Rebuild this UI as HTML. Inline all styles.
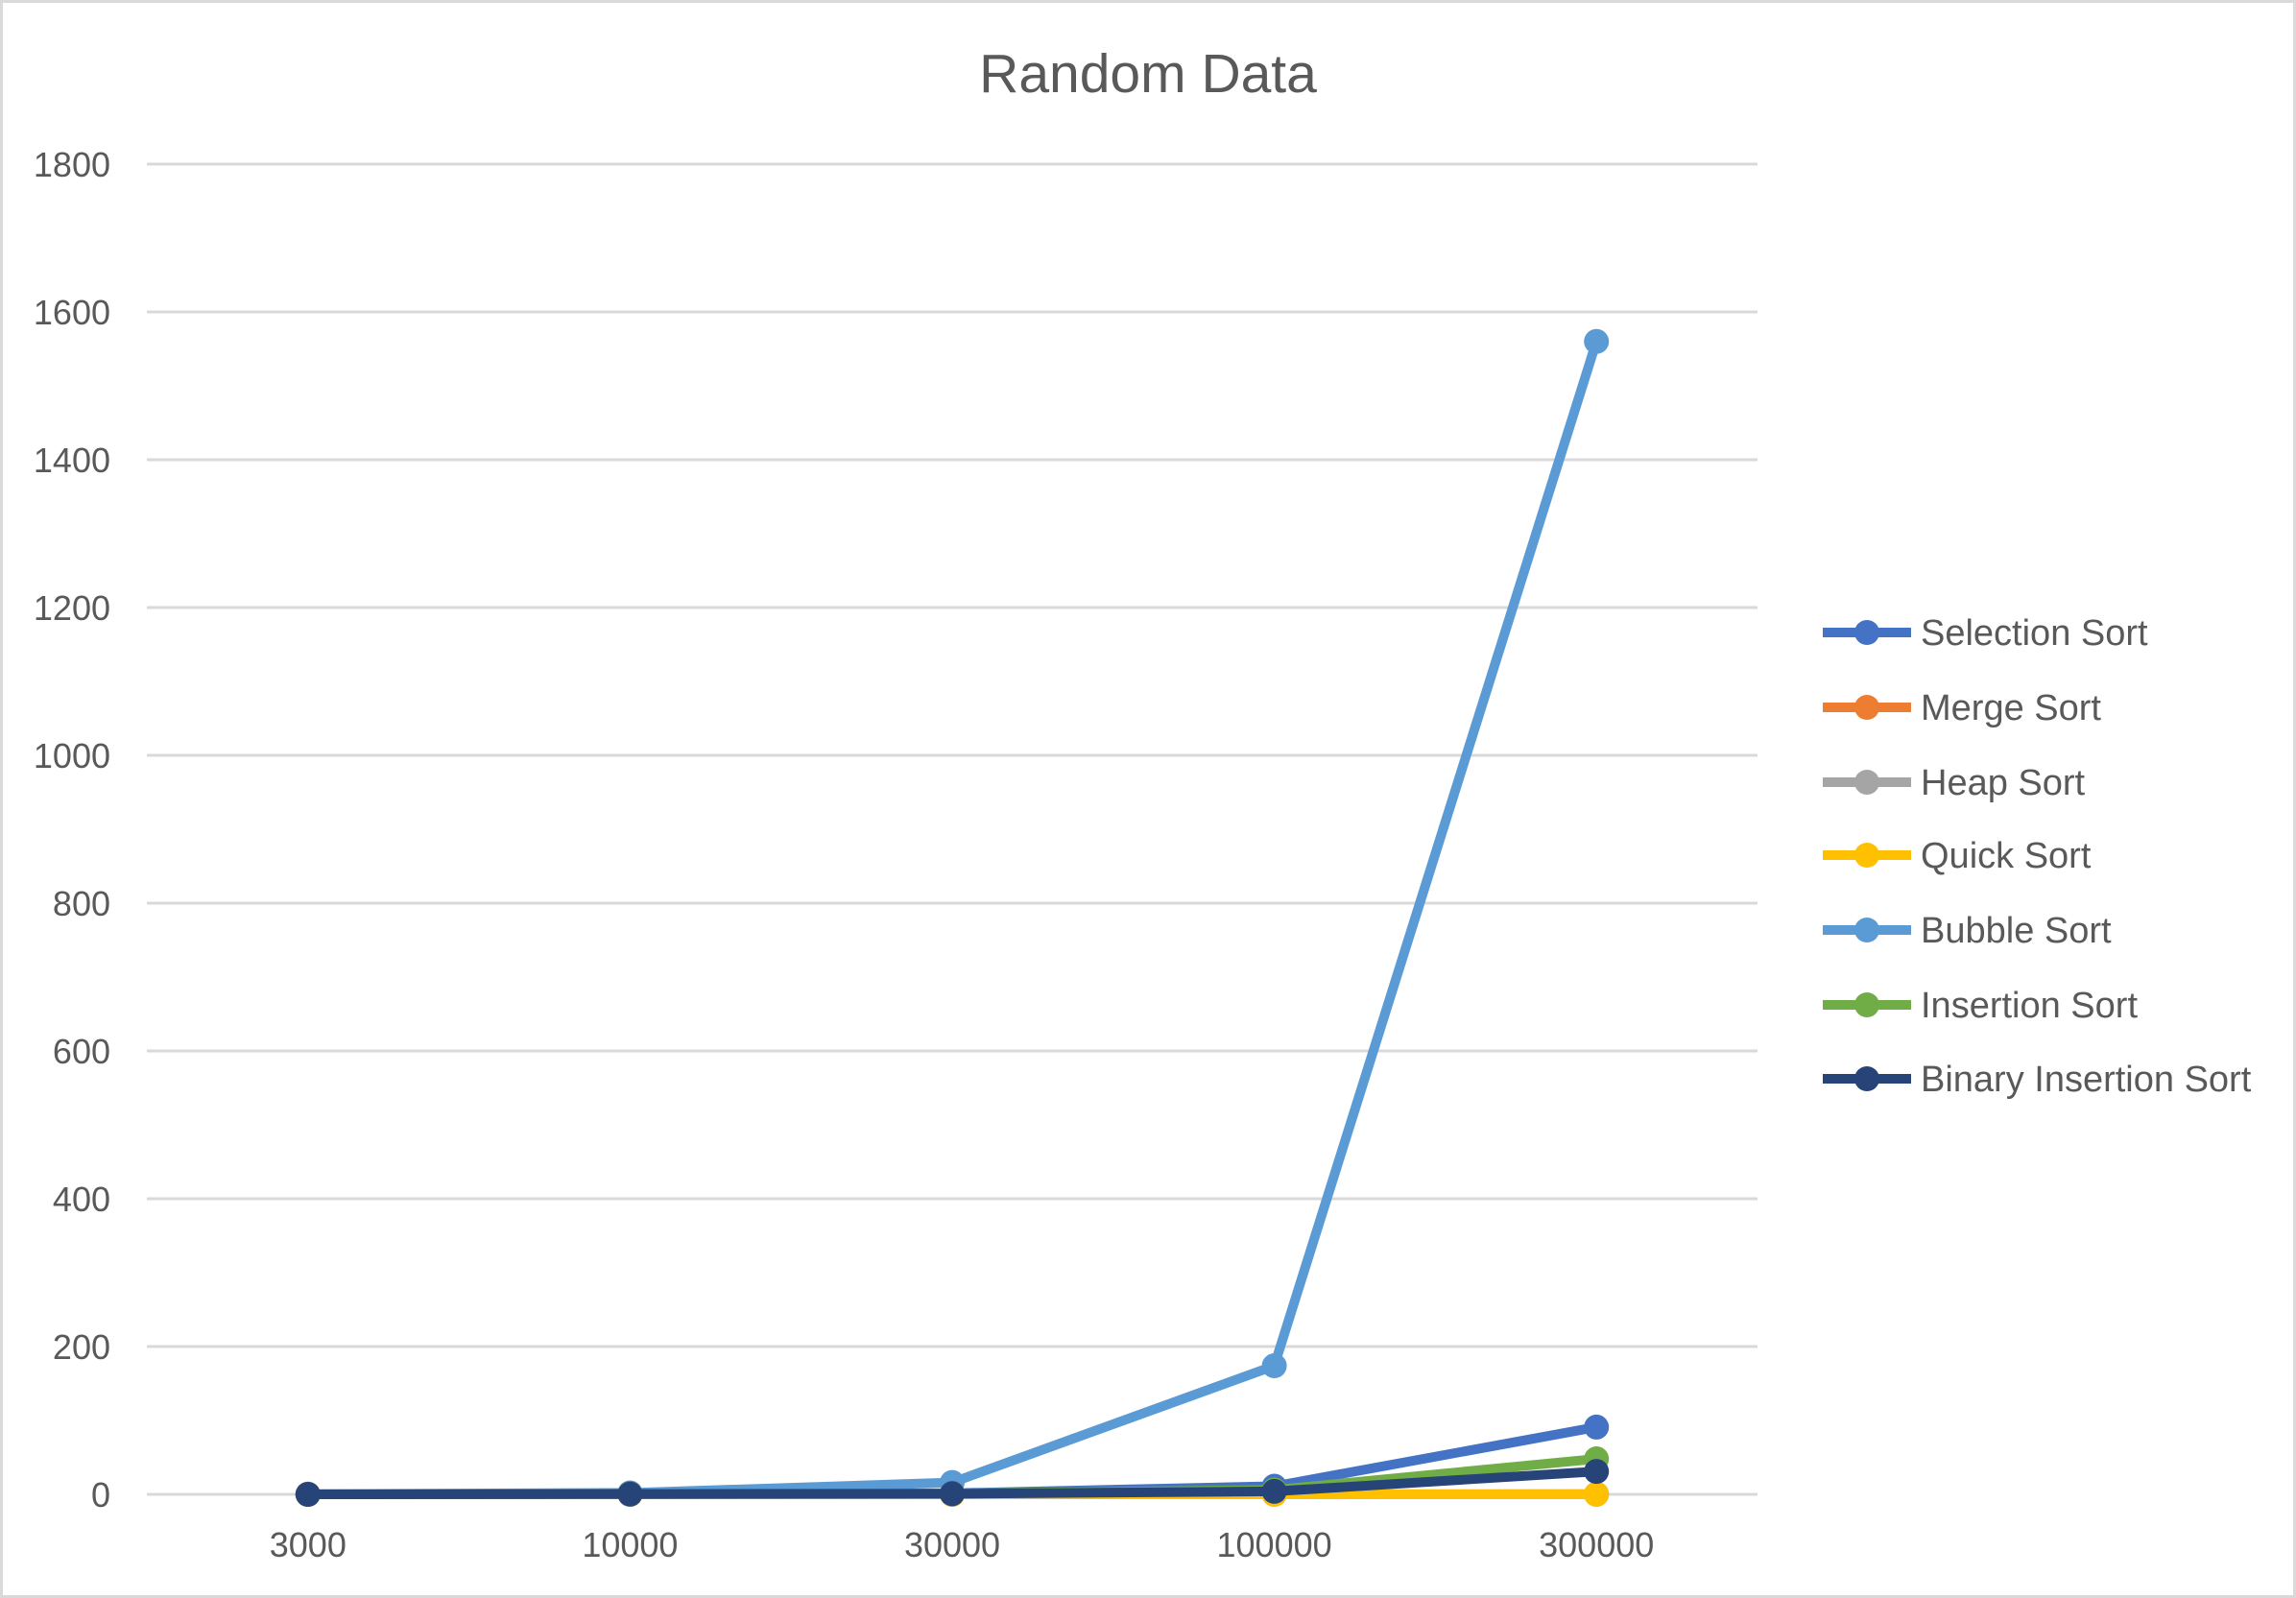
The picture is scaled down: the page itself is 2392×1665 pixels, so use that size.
<!DOCTYPE html>
<html><head><meta charset="utf-8"><style>
html,body{margin:0;padding:0;background:#fff}
svg{display:block;font-family:"Liberation Sans",sans-serif}
</style></head><body>
<svg id="chart" width="2392" height="1665" viewBox="0 0 2392 1665">
<rect x="1.5" y="1.5" width="2389" height="1662" fill="#fff" stroke="#d9d9d9" stroke-width="3"/>
<text x="1196" y="96" text-anchor="middle" font-size="57" fill="#595959">Random Data</text>
<g id="grid"></g><g id="xlabels"></g><g id="series"></g><g id="legend"></g>
</svg>
<script>
const categories = ["3000","10000","30000","100000","300000"];
const yTicks = [0,200,400,600,800,1000,1200,1400,1600,1800];
const seriesNames = ["Selection Sort","Merge Sort","Heap Sort","Quick Sort","Bubble Sort","Insertion Sort","Binary Insertion Sort"];
const seriesColors = ["#4472c4","#ed7d31","#a5a5a5","#ffc000","#5b9bd5","#70ad47","#264478"];
const selectionSort = [0.1,1,1.5,11,91];
const mergeSort = [0,0,0,0.1,0.2];
const heapSort = [0,0,0,0.1,0.3];
const quickSort = [0,0,0,0,0];
const bubbleSort = [0.3,2,16,174,1560];
const insertionSort = [0,0.5,1,6,48];
const binaryInsertionSort = [0,0.3,0.8,4,31];
const seriesValues = [selectionSort,mergeSort,heapSort,quickSort,bubbleSort,insertionSort,binaryInsertionSort];
const drawOrder = [4,0,1,2,3,5,6];

const NS="http://www.w3.org/2000/svg";
const L=153,R=1831,T=171,B=1557,YMAX=1800;
const xs=i=>L+(R-L)*(i+0.5)/categories.length;
const ys=v=>B-(B-T)*v/YMAX;
function mk(tag,attrs,parent){const e=document.createElementNS(NS,tag);for(const k in attrs)e.setAttribute(k,attrs[k]);parent.appendChild(e);return e;}
const grid=document.getElementById('grid');
yTicks.forEach(t=>{
  const ln=mk('line',{x1:L,x2:R,y1:ys(t),y2:ys(t),stroke:'#d9d9d9','stroke-width':3},grid);
  
  
  const tx=mk('text',{x:115,y:ys(t)+13,'text-anchor':'end','font-size':36,fill:'#595959'},grid);
  tx.textContent=t;
  
  
});
const xl=document.getElementById('xlabels');
categories.forEach((c,i)=>{
  const tx=mk('text',{x:xs(i),y:1622,'text-anchor':'middle','font-size':36,fill:'#595959'},xl);
  tx.textContent=c;
  
  
});
const sg=document.getElementById('series');
drawOrder.forEach(s=>{
  const g=mk('g',{},sg);
  
  
  const pts=seriesValues[s].map((v,i)=>xs(i)+','+ys(v)).join(' ');
  const pl=mk('polyline',{points:pts,fill:'none',stroke:seriesColors[s],'stroke-width':10,'stroke-linejoin':'round'},g);
  
  
  seriesValues[s].forEach((v,i)=>{
    const c=mk('circle',{cx:xs(i),cy:ys(v),r:13,fill:seriesColors[s]},g);
    
    
  });
});
const lg=document.getElementById('legend');
const legY=[659,737,815,891,969,1047,1124];
seriesNames.forEach((n,s)=>{
  const g=mk('g',{},lg);
  
  
  mk('line',{x1:1899,x2:1991,y1:legY[s],y2:legY[s],stroke:seriesColors[s],'stroke-width':10},g);
  mk('circle',{cx:1945,cy:legY[s],r:13,fill:seriesColors[s]},g);
  const t=mk('text',{x:2001,y:legY[s]+13,'font-size':38,fill:'#595959'},g);
  t.textContent=n;
});
</script>
</body></html>
